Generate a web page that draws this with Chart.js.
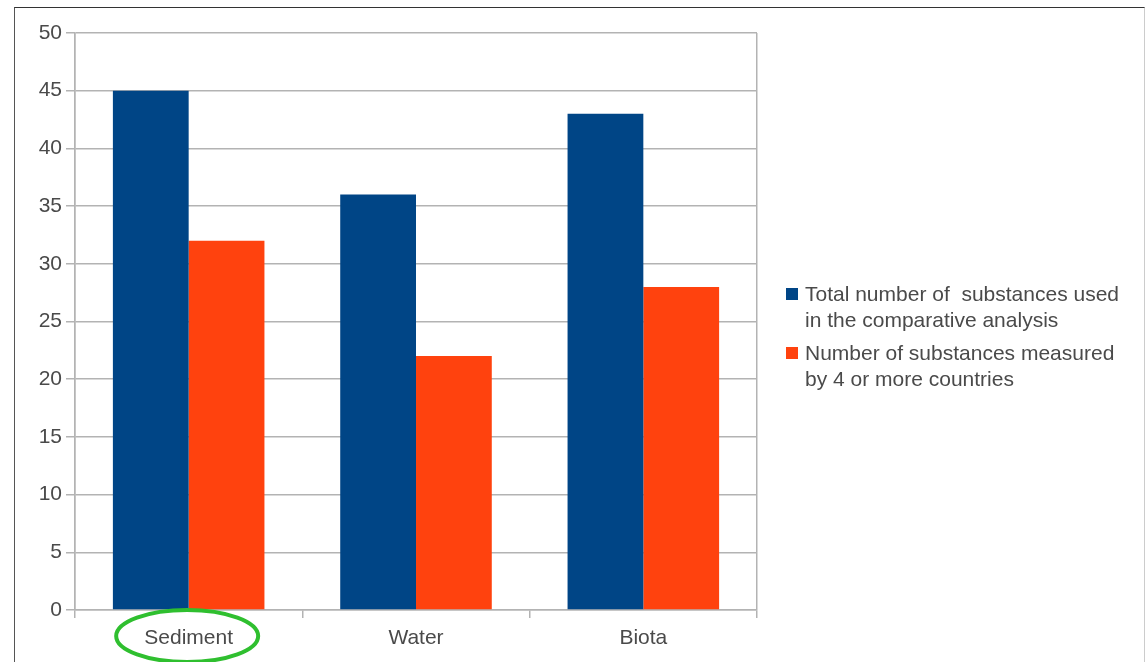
<!DOCTYPE html>
<html>
<head>
<meta charset="utf-8">
<script src="https://cdn.jsdelivr.net/npm/chart.js@4.4.0/dist/chart.umd.min.js"></script>
<style>
  html, body { margin: 0; padding: 0; background: #fff; }
  #wrap { position: relative; width: 1146px; height: 662px; overflow: hidden; }
  #frame { position: absolute; left: 14px; top: 7px; width: 1129px; height: 660px;
           border-top: 1.5px solid #333; border-left: 1.5px solid #555; border-right: 1px solid #ccc;
           pointer-events: none; }
  #legend { position: absolute; left: 786px; top: 281px; font-family: "Liberation Sans", Arial, sans-serif;
            font-size: 21px; color: #4a4a4a; line-height: 26px; }
  .item { position: relative; padding-left: 19px; white-space: pre; margin-bottom: 7px; }
  .box { position: absolute; left: 0; top: 7px; width: 12px; height: 12px; }
</style>
</head>
<body>
<div id="wrap">
  <canvas id="chart" width="1146" height="662"></canvas>
  <div id="frame"></div>
  <div id="legend"></div>
</div>
<script>
var categories = ["Sediment", "Water", "Biota"];
var totalSubstances = [45, 36, 43];
var measuredBy4 = [32, 22, 28];
var seriesNames = [
    ["Total number of  substances used", "in the comparative analysis"],
    ["Number of substances measured", "by 4 or more countries"]
];
var seriesColors = ["#004586", "#ff420e"];
var yTicks = [0, 5, 10, 15, 20, 25, 30, 35, 40, 45, 50];

var gridColor = "#b3b3b3";
var textColor = "#4a4a4a";
var textFont = { family: "'Liberation Sans', Arial, sans-serif", size: 21 };

// green circle drawn round the first category label
var highlightPlugin = {
    id: "highlight",
    afterDraw: function (chart) {
        var x = chart.scales.x.getPixelForValue(0);
        var ctx = chart.ctx;
        ctx.save();
        ctx.strokeStyle = "#2fbf2f";
        ctx.lineWidth = 4;
        ctx.beginPath();
        ctx.ellipse(x - 1.5, 636, 71, 26, 0, 0, Math.PI * 2);
        ctx.stroke();
        ctx.restore();
    }
};

var chart = new Chart(document.getElementById("chart"), {
    type: "bar",
    data: {
        labels: categories,
        datasets: [
            { label: seriesNames[0].join(" "), data: totalSubstances, backgroundColor: seriesColors[0] },
            { label: seriesNames[1].join(" "), data: measuredBy4, backgroundColor: seriesColors[1] }
        ]
    },
    options: {
        responsive: false,
        animation: false,
        layout: { padding: { left: 0, right: 389, top: 33, bottom: 0 } },
        datasets: { bar: { categoryPercentage: 2 / 3, barPercentage: 1 } },
        plugins: { legend: { display: false }, tooltip: { enabled: false } },
        scales: {
            x: {
                afterFit: function (scale) { scale.height = 52; },
                grid: {
                    offset: true,
                    color: function (c) { return (c.index === 1 || c.index === 2) ? "transparent" : gridColor; },
                    tickColor: gridColor,
                    tickLength: 8,
                    lineWidth: 1.5
                },
                border: { color: gridColor, width: 1.5 },
                ticks: { font: textFont, color: textColor, padding: 8 }
            },
            y: {
                min: 0,
                max: 50,
                afterFit: function (scale) { scale.width = 75; },
                afterBuildTicks: function (scale) {
                    scale.ticks = yTicks.map(function (v) { return { value: v }; });
                },
                grid: { color: gridColor, tickLength: 9, lineWidth: 1.5 },
                border: { color: gridColor, width: 1.5 },
                ticks: { font: textFont, color: textColor, padding: 4 }
            }
        }
    },
    plugins: [highlightPlugin]
});

// legend with two-line labels
var legend = document.getElementById("legend");
seriesNames.forEach(function (lines, i) {
    var item = document.createElement("div");
    item.className = "item";
    var box = document.createElement("span");
    box.className = "box";
    box.style.background = seriesColors[i];
    item.appendChild(box);
    item.appendChild(document.createTextNode(lines.join("\n")));
    legend.appendChild(item);
});
</script>
</body>
</html>
